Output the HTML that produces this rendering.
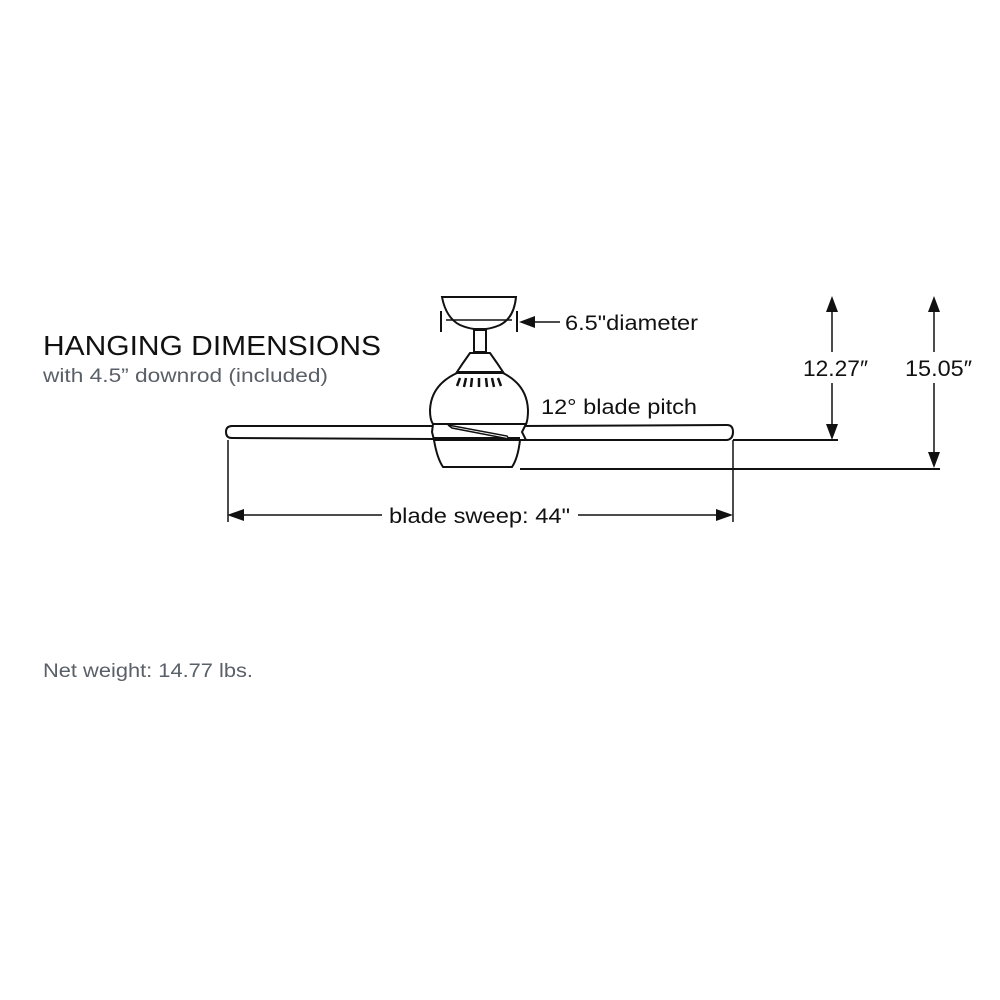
<!DOCTYPE html>
<html><head><meta charset="utf-8"><style>
html,body{margin:0;padding:0;background:#fff;}
svg{display:block;}
text{font-family:"Liberation Sans",sans-serif;}
</style></head><body>
<svg width="1000" height="1000" viewBox="0 0 1000 1000" xmlns="http://www.w3.org/2000/svg">
<rect width="1000" height="1000" fill="#fff"/>
<text x="43" y="355" font-size="28" fill="#111" textLength="338" lengthAdjust="spacingAndGlyphs">HANGING DIMENSIONS</text>
<text x="43" y="382" font-size="19" fill="#5a6068" textLength="285" lengthAdjust="spacingAndGlyphs">with 4.5” downrod (included)</text>
<text x="43" y="677" font-size="19" fill="#5a6068" textLength="210" lengthAdjust="spacingAndGlyphs">Net weight: 14.77 lbs.</text>

<g fill="none" stroke="#111" stroke-width="2">
<path d="M442 297 H516 Q514 318 500 325 Q493 328 486 329 H474 Q467 328 460 325 Q446 318 442 297 Z" fill="#fff"/>
<line x1="446" y1="320" x2="512" y2="320" stroke-width="1.5"/>
<line x1="441" y1="311" x2="441" y2="332"/>
<line x1="517" y1="311" x2="517" y2="332"/>
<rect x="474" y="330" width="12" height="22" fill="#fff"/>
<path d="M470 353 H490 L497 363 L503 372 H457 L463 363 Z" fill="#fff"/>
<path d="M457 373 H503 Q527 385 528 410 Q528 420 526 424 H433 Q430 420 430 410 Q431 385 457 373 Z" fill="#fff"/>
<path d="M460 378 L457 386 M466 378 L464 387 M472 378 L471 387 M479 378 L479 387 M486 378 L487 387 M492 378 L494 387 M498 378 L501 386" stroke-width="2.5"/>
<path d="M434 440 H520 Q518 458 512 467 H443 Q437 458 434 440 Z" fill="#fff"/>
<path d="M434 426 L232 426 Q226 426 226 432 Q226 438 232 438 L434 439" fill="#fff"/>
<path d="M520 426 L727 425 Q733 425 733 432 Q733 439 727 440 L520 440" fill="#fff"/>
<path d="M433 424 L526 424 L522 432 L526 440 H434 L432 432 Z" fill="#fff"/>
<line x1="434" y1="438" x2="520" y2="438"/>
<path d="M448 425 L452 428 L509 439 L507 436 Z" fill="#fff" stroke-width="1.5"/>
<line x1="228" y1="440" x2="228" y2="522" stroke-width="1.5"/>
<line x1="733" y1="440" x2="733" y2="522" stroke-width="1.5"/>
<line x1="733" y1="440" x2="838" y2="440"/>
<line x1="520" y1="469" x2="940" y2="469"/>
<line x1="832" y1="308" x2="832" y2="352" stroke-width="1.5"/>
<line x1="832" y1="383" x2="832" y2="428" stroke-width="1.5"/>
<line x1="934" y1="308" x2="934" y2="352" stroke-width="1.5"/>
<line x1="934" y1="383" x2="934" y2="456" stroke-width="1.5"/>
<line x1="240" y1="515" x2="382" y2="515" stroke-width="1.5"/>
<line x1="578" y1="515" x2="720" y2="515" stroke-width="1.5"/>
<line x1="530" y1="322" x2="560" y2="322" stroke-width="1.5"/>
</g>
<g fill="#111">
<polygon points="832,296 826,312 838,312"/>
<polygon points="832,440 826,424 838,424"/>
<polygon points="934,296 928,312 940,312"/>
<polygon points="934,468 928,452 940,452"/>
<polygon points="227,515 244,509 244,521"/>
<polygon points="733,515 716,509 716,521"/>
<polygon points="519,322 535,316 535,328"/>
</g>
<text x="565" y="330" font-size="21" fill="#111" textLength="133" lengthAdjust="spacingAndGlyphs">6.5"diameter</text>
<text x="541" y="414" font-size="21" fill="#111" textLength="156" lengthAdjust="spacingAndGlyphs">12° blade pitch</text>
<text x="803" y="376" font-size="22" fill="#111" textLength="65" lengthAdjust="spacingAndGlyphs">12.27″</text>
<text x="905" y="376" font-size="22" fill="#111" textLength="67" lengthAdjust="spacingAndGlyphs">15.05″</text>
<text x="389" y="523" font-size="21" fill="#111" textLength="181" lengthAdjust="spacingAndGlyphs">blade sweep: 44"</text>
</svg>
</body></html>
